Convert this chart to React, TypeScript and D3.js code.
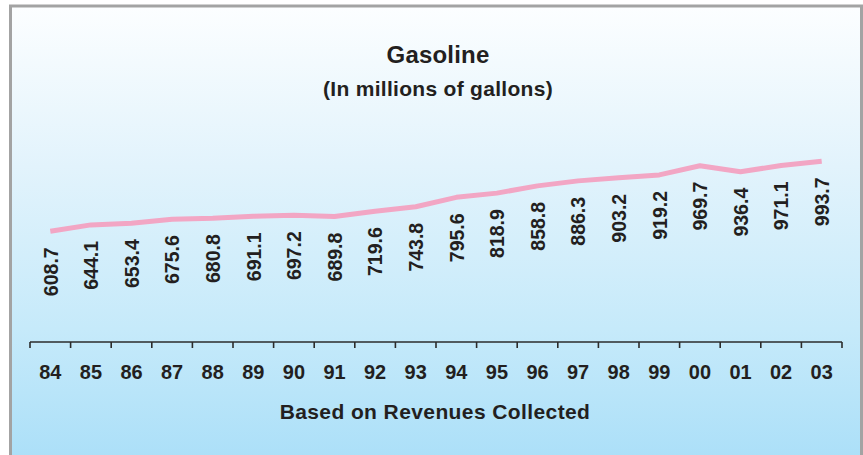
import React from "react";
import * as d3 from "d3";

const years = ["84","85","86","87","88","89","90","91","92","93","94","95","96","97","98","99","00","01","02","03"];
const gallons = [608.7,644.1,653.4,675.6,680.8,691.1,697.2,689.8,719.6,743.8,795.6,818.9,858.8,886.3,903.2,919.2,969.7,936.4,971.1,993.7];
const title = "Gasoline";
const subtitle = "(In millions of gallons)";
const caption = "Based on Revenues Collected";

const W = 863, H = 455;
const FONT = "'Liberation Sans', Arial, Helvetica, sans-serif";

export default function App() {
  const x = d3.scaleBand<string>().domain(years).range([30, 842]).padding(0);
  const y = d3.scaleLinear().domain([0, 1000]).range([342, 160.2]);
  const line = d3.line<number>()
    .x((_, i) => (x(years[i]) as number) + x.bandwidth() / 2)
    .y((d) => y(d));
  const ticks = d3.range(years.length + 1).map((i) => 30 + i * x.step());

  return (
    <svg width={W} height={H} style={{ position: "absolute", left: 0, top: 0 }} fontFamily={FONT}>
      <defs>
        <linearGradient id="bg" x1="0" y1="0" x2="0" y2="1">
          <stop offset="0" stopColor="#fcfeff" />
          <stop offset="0.35" stopColor="#e2f3fc" />
          <stop offset="0.7" stopColor="#c6eafa" />
          <stop offset="1" stopColor="#aadff8" />
        </linearGradient>
      </defs>
      <rect x={0} y={0} width={W} height={H} fill="#ffffff" />
      <rect x={10.5} y={6} width={851} height={460} fill="url(#bg)" stroke="#a3a3a3" strokeWidth={3} />
      <text x={438} y={63} textAnchor="middle" fontSize={24} fontWeight="bold" letterSpacing={0.2} fill="#231f20">{title}</text>
      <text x={438} y={96} textAnchor="middle" fontSize={21} fontWeight="bold" letterSpacing={0.3} fill="#231f20">{subtitle}</text>
      <path d={line(gallons) || ""} fill="none" stroke="#f2a6c4" strokeWidth={5} strokeLinejoin="round" />
      {gallons.map((v, i) => {
        const cx = (x(years[i]) as number) + x.bandwidth() / 2;
        const cy = y(v) + 16;
        return (
          <text key={i} transform={`translate(${cx},${cy}) rotate(-90) scale(0.93,1)`} textAnchor="end" dominantBaseline="central"
            fontSize={21} fontWeight="bold" fill="#231f20">{v.toFixed(1)}</text>
        );
      })}
      <line x1={30} x2={842} y1={342} y2={342} stroke="#2b2b2b" strokeWidth={1.6} />
      {ticks.map((t, i) => (
        <line key={i} x1={t} x2={t} y1={342} y2={348} stroke="#2b2b2b" strokeWidth={1.6} />
      ))}
      {years.map((yr) => (
        <text key={yr} transform={`translate(${(x(yr) as number) + x.bandwidth() / 2},379) scale(0.95,1)`} textAnchor="middle" fontSize={21} fontWeight="bold" fill="#231f20">{yr}</text>
      ))}
      <text x={435} y={419} textAnchor="middle" fontSize={21} fontWeight="bold" letterSpacing={0.4} fill="#231f20">{caption}</text>
    </svg>
  );
}
